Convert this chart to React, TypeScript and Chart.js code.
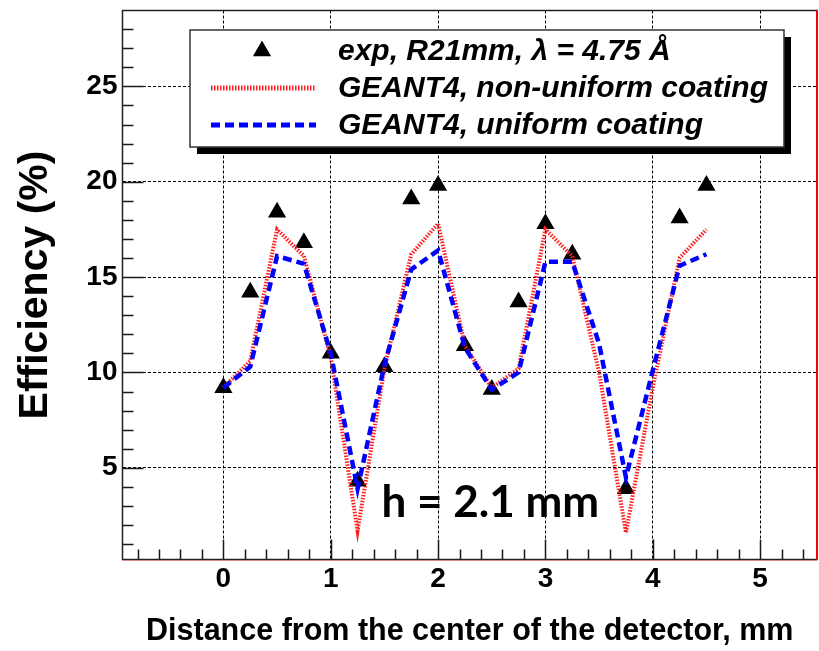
import React, { useEffect, useRef } from "react";
import { Chart, registerables } from "chart.js";

Chart.register(...registerables);

// ---- data ----
const simDistance = [0, 0.25, 0.5, 0.75, 1, 1.25, 1.5, 1.75, 2, 2.25, 2.5, 2.75, 3, 3.25, 3.5, 3.75, 4, 4.25, 4.5];
const nonUniformEff = [9.2, 10.6, 17.5, 16.1, 10.8, 1.7, 10.2, 16.2, 17.8, 11.4, 9.2, 10.2, 17.5, 16.1, 10.0, 1.6, 9.2, 16.0, 17.5];
const uniformEff = [9.2, 10.3, 16.1, 15.7, 11.0, 3.9, 10.4, 15.4, 16.4, 11.3, 9.1, 10.0, 15.8, 15.8, 11.5, 4.5, 10.1, 15.6, 16.2];
const expDistance = [0, 0.25, 0.5, 0.75, 1, 1.25, 1.5, 1.75, 2, 2.25, 2.5, 2.75, 3, 3.25, 3.75, 4.25, 4.5];
const expEff = [9.2, 14.2, 18.4, 16.8, 11.0, 4.3, 10.3, 19.1, 19.8, 11.4, 9.1, 13.7, 17.8, 16.2, 3.9, 18.1, 19.8];

const xTickValues = [0, 1, 2, 3, 4, 5];
const yTickValues = [5, 10, 15, 20, 25];
const legendLabels = ["exp, R21mm, \u03BB = 4.75 \u00C5", "GEANT4, non-uniform coating", "GEANT4, uniform coating"];
const xTitle = "Distance from the center of the detector, mm";
const yTitle = "Efficiency (%)";
const noteText = "h = 2.1 mm";

const X_MIN = -0.94;
const X_MAX = 5.53;
const Y_MIN = 0.19;
const Y_MAX = 28.98;

// target plot frame in page pixels
const AREA = { left: 122.5, top: 9, right: 817, bottom: 559.5 };

const RED = "rgb(255,30,30)";
const BLUE = "rgb(0,0,255)";
const RED_DASH = [1.5, 1.5];
const BLUE_DASH = [9, 5];

function drawTriangle(ctx: CanvasRenderingContext2D, x: number, y: number, r: number) {
  let rad = 0;
  const step = (2 * Math.PI) / 3;
  ctx.beginPath();
  ctx.moveTo(x + Math.sin(rad) * r, y - Math.cos(rad) * r);
  rad += step;
  ctx.lineTo(x + Math.sin(rad) * r, y - Math.cos(rad) * r);
  rad += step;
  ctx.lineTo(x + Math.sin(rad) * r, y - Math.cos(rad) * r);
  ctx.closePath();
  ctx.fill();
}

function zeroPadding(scale: any) {
  scale.paddingLeft = 0;
  scale.paddingRight = 0;
  scale.paddingTop = 0;
  scale.paddingBottom = 0;
}

// keeps the plot frame exactly where the reference has it
const frameFixPlugin = {
  id: "frameFix",
  afterLayout(chart: any) {
    const ca = chart.chartArea;
    if (!ca) return;
    if (Math.abs(ca.right - AREA.right) > 0.1) {
      ca.right = AREA.right;
      ca.width = ca.right - ca.left;
      const xs = chart.scales.x;
      xs.right = AREA.right;
      xs.width = xs.right - xs.left;
      xs.configure();
    }
  },
};

const decorPlugin = {
  id: "rootDecor",
  afterDraw(chart: any) {
    const { ctx, chartArea: ca, scales } = chart;
    const xs = scales.x;
    const ys = scales.y;
    ctx.save();

    // note text
    ctx.fillStyle = "#000";
    ctx.font = "bold 44px Lato";
    ctx.textAlign = "left";
    ctx.textBaseline = "alphabetic";
    ctx.fillText(noteText, ca.left + 259, ca.top + 506);

    // inward ticks
    ctx.strokeStyle = "#1a1a1a";
    ctx.lineWidth = 1.5;
    ctx.beginPath();
    for (let i = -4; i <= 27; i++) {
      const v = i / 5;
      const px = Math.round(xs.getPixelForValue(v)) + 0.5;
      const major = i % 5 === 0;
      ctx.moveTo(px, ca.bottom);
      ctx.lineTo(px, ca.bottom - (major ? 20 : 10));
    }
    for (let v = 1; v <= 28; v++) {
      const py = Math.round(ys.getPixelForValue(v)) + 0.5;
      const major = v % 5 === 0;
      ctx.moveTo(ca.left, py);
      ctx.lineTo(ca.left + (major ? 21 : 11), py);
    }
    ctx.stroke();

    // frame
    ctx.strokeStyle = "#222";
    ctx.lineWidth = 1.5;
    ctx.strokeRect(ca.left, ca.top, ca.right - ca.left, ca.bottom - ca.top);

    // red right edge and faint red bottom edge
    ctx.strokeStyle = "rgb(255,0,0)";
    ctx.lineWidth = 2;
    ctx.beginPath();
    ctx.moveTo(ca.right, ca.top);
    ctx.lineTo(ca.right, ca.bottom);
    ctx.stroke();
    ctx.strokeStyle = "rgba(255,0,0,0.3)";
    ctx.lineWidth = 1;
    ctx.beginPath();
    ctx.moveTo(ca.left, ca.bottom + 1);
    ctx.lineTo(ca.right, ca.bottom + 1);
    ctx.stroke();

    // legend box with shadow
    const lx = 190, ly = 30, lw = 594, lh = 117;
    ctx.fillStyle = "#000";
    ctx.fillRect(lx + 7, ly + 7, lw, lh);
    ctx.fillStyle = "#fff";
    ctx.fillRect(lx, ly, lw, lh);
    ctx.strokeStyle = "#333";
    ctx.lineWidth = 1.5;
    ctx.strokeRect(lx, ly, lw, lh);

    // legend symbols
    ctx.fillStyle = "#000";
    drawTriangle(ctx, 262, 51, 10.5);
    ctx.lineWidth = 5;
    ctx.strokeStyle = RED;
    ctx.setLineDash(RED_DASH);
    ctx.beginPath();
    ctx.moveTo(211, 88);
    ctx.lineTo(316, 88);
    ctx.stroke();
    ctx.strokeStyle = BLUE;
    ctx.setLineDash(BLUE_DASH);
    ctx.beginPath();
    ctx.moveTo(211, 125);
    ctx.lineTo(316, 125);
    ctx.stroke();
    ctx.setLineDash([]);

    // legend text
    ctx.fillStyle = "#000";
    ctx.font = "italic bold 30px 'Liberation Sans'";
    ctx.textBaseline = "alphabetic";
    ctx.fillText(legendLabels[0], 338, 60);
    ctx.fillText(legendLabels[1], 338, 97);
    ctx.fillText(legendLabels[2], 338, 134);

    ctx.restore();
  },
};

export default function App() {
  const canvasRef = useRef<HTMLCanvasElement | null>(null);

  useEffect(() => {
    const canvas = canvasRef.current;
    if (!canvas) return;
    const chart = new Chart(canvas, {
      type: "scatter",
      data: {
        datasets: [
          {
            label: legendLabels[0],
            data: expDistance.map((x, i) => ({ x, y: expEff[i] })),
            showLine: false,
            pointStyle: "triangle",
            pointRadius: 10.5,
            pointHoverRadius: 10.5,
            pointBackgroundColor: "#000",
            pointBorderColor: "#000",
            pointBorderWidth: 0,
            order: 3,
          },
          {
            label: legendLabels[1],
            data: simDistance.map((x, i) => ({ x, y: nonUniformEff[i] })),
            showLine: true,
            borderColor: RED,
            borderWidth: 4,
            borderDash: RED_DASH,
            pointRadius: 0,
            tension: 0,
            fill: false,
            order: 2,
          },
          {
            label: legendLabels[2],
            data: simDistance.map((x, i) => ({ x, y: uniformEff[i] })),
            showLine: true,
            borderColor: BLUE,
            borderWidth: 4.5,
            borderDash: BLUE_DASH,
            pointRadius: 0,
            tension: 0,
            fill: false,
            order: 1,
          },
        ],
      },
      options: {
        responsive: false,
        animation: false,
        devicePixelRatio: 1,
        layout: { padding: { top: AREA.top, right: 819 - AREA.right, left: 0, bottom: 0 } },
        plugins: {
          legend: { display: false },
          tooltip: { enabled: false },
        },
        scales: {
          x: {
            type: "linear",
            min: X_MIN,
            max: X_MAX,
            afterBuildTicks: (scale: any) => {
              scale.ticks = xTickValues.map((v) => ({ value: v }));
            },
            afterFit: (scale: any) => {
              scale.height = 651 - AREA.bottom;
              zeroPadding(scale);
            },
            ticks: {
              autoSkip: false,
              maxRotation: 0,
              padding: 3,
              color: "#000",
              font: { family: "'Liberation Sans'", size: 28, weight: "bold" },
            },
            grid: {
              color: "#000",
              lineWidth: 1,
              drawTicks: false,
            },
            border: { display: false, dash: [3, 2] },
            title: {
              display: true,
              text: xTitle,
              color: "#000",
              font: { family: "'Liberation Sans'", size: 30.5, weight: "bold" },
              padding: { top: 0, bottom: 1 },
            },
          },
          y: {
            type: "linear",
            min: Y_MIN,
            max: Y_MAX,
            afterBuildTicks: (scale: any) => {
              scale.ticks = yTickValues.map((v) => ({ value: v }));
            },
            afterFit: (scale: any) => {
              scale.width = AREA.left;
              zeroPadding(scale);
            },
            ticks: {
              autoSkip: false,
              padding: 5,
              color: "#000",
              font: { family: "'Liberation Sans'", size: 28, weight: "bold" },
            },
            grid: {
              color: "#000",
              lineWidth: 1,
              drawTicks: false,
            },
            border: { display: false, dash: [3, 2] },
            title: {
              display: true,
              text: yTitle,
              color: "#000",
              font: { family: "'Liberation Sans'", size: 41, weight: "bold" },
              padding: { top: 11, bottom: 0 },
            },
          },
        },
      },
      plugins: [frameFixPlugin, decorPlugin],
    });

    return () => chart.destroy();
  }, []);

  return (
    <div style={{ position: "absolute", left: 0, top: 0, width: 819, height: 651, background: "#fff" }}>
      <canvas ref={canvasRef} width={819} height={651} style={{ display: "block" }} />
    </div>
  );
}
